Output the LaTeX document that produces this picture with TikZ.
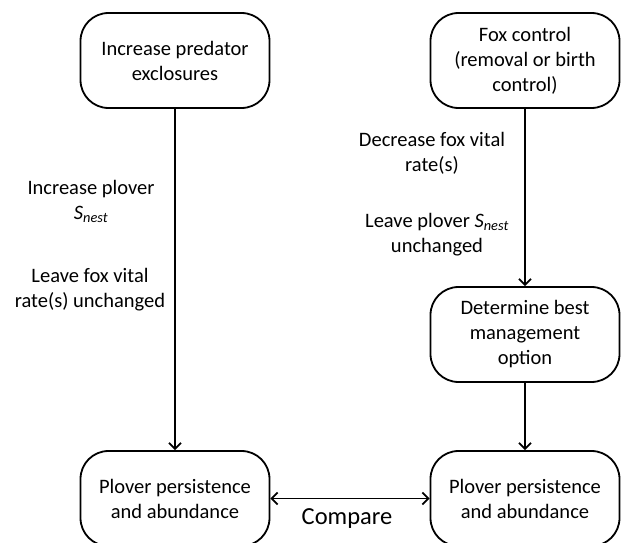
\documentclass[tikz,border=0pt]{standalone}
\usepackage{fontspec}
\setmainfont{Carlito}
\usetikzlibrary{arrows.meta}
\begin{document}
\begin{tikzpicture}[x=1pt,y=-1pt,
tip/.tip={Straight Barb[length=6pt,width=12pt,line width=1.8pt]},
box/.style={draw, line width=1.8pt, rounded corners=28pt, minimum width=189pt, minimum height=95pt, inner sep=0pt, align=center, font=\fontsize{20.5}{25}\selectfont},
lbl/.style={align=center, inner sep=0pt, font=\fontsize{20.5}{25}\selectfont},
arr/.style={line width=1.8pt, -tip}]
\useasboundingbox (0,0) rectangle (622,543);
\clip (0,0) rectangle (622,543);
\node [box] (excl) at (175,60.5) {Increase predator\\exclosures};
\node [box] (fox) at (525,60.5) {Fox control\\(removal or birth\\control)};
\node [box] (best) at (525,334.5) {Determine best\\management\\option};
\node [box] (persL) at (175,498.5) {Plover persistence\\and abundance};
\node [box] (persR) at (525,498.5) {Plover persistence\\and abundance};
\node [lbl] (incS) at (91,201) {Increase plover\\\textit{S\textsubscript{nest}}};
\node [lbl] (keepfox) at (90,290) {Leave fox vital\\rate(s) unchanged};
\node [lbl] (decfox) at (432,153) {Decrease fox vital\\rate(s)};
\node [lbl] (keepS) at (437,235) {Leave plover \textit{S\textsubscript{nest}}\\unchanged};
\node [lbl, font=\fontsize{24.5}{29}\selectfont] (cmp) at (347,519) {Compare};
\draw [arr] (excl) -- (persL);
\draw [arr] (fox) -- (best);
\draw [arr] (best) -- (persR);
\draw [arr, tip-tip] (persL) -- (persR);
\end{tikzpicture}
\end{document}
